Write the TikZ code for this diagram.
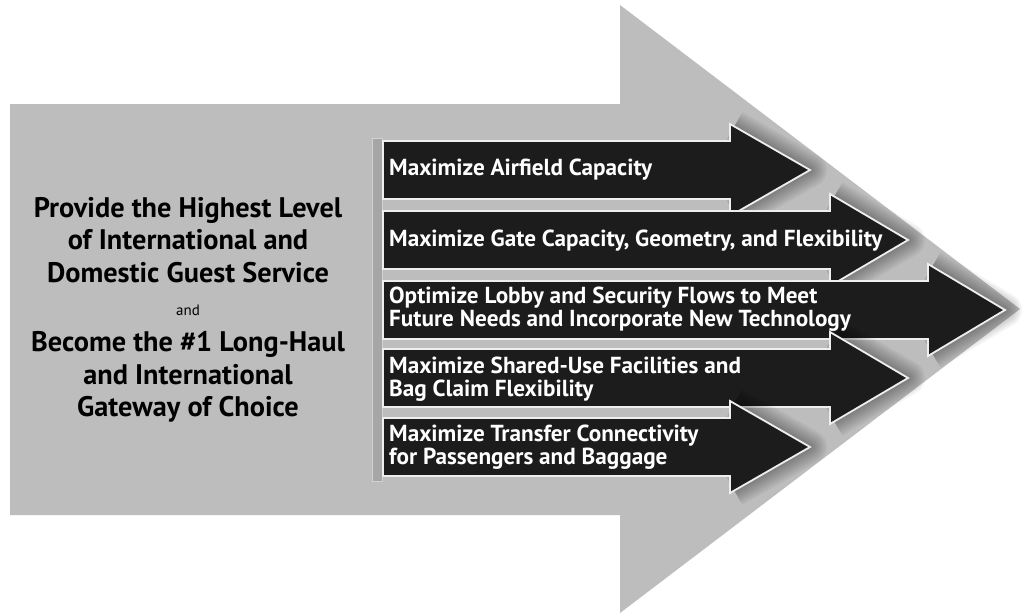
\documentclass[tikz,border=0pt]{standalone}
\usepackage{fontspec}
\setmainfont{PT Sans}
\definecolor{bigfill}{HTML}{BDBDBD}
\definecolor{darkfill}{HTML}{1C1C1C}
\definecolor{rimcol}{HTML}{EEEEEE}
\tikzset{
  bigarrow/.style={fill=bigfill},
  inarrow/.style={fill=darkfill, draw=rimcol, line width=1.8pt, line join=miter},
  itext/.style={text=white, anchor=west, align=left, inner sep=0pt,
    font=\bfseries\fontsize{23.2}{22.5}\selectfont},
  gtext/.style={text=black, align=center, inner sep=0pt,
    font=\bfseries\fontsize{28.3}{32.5}\selectfont},
  glow/.style={black, line join=round, line cap=butt}
}
\begin{document}
\begin{tikzpicture}[x=1pt,y=-1pt]
\useasboundingbox (0,0) rectangle (1025,613);
\fill[white] (0,0) rectangle (1025,613);
% big arrow
\fill[bigarrow] (10,104) -- (620,104) -- (620,5) -- (1020,309) -- (620,613)
  -- (620,515) -- (10,515) -- cycle;
% left strip
\fill[gray!70, draw=gray!35] (372,138) rectangle (382,481);
% inner arrows
\foreach \cy/\hb/\tp in {170/730/810, 240/830/908, 310/928/1005, 378/830/908, 447/730/810} {
  \foreach \w in {34,30,26,22,18,14,10,6}
    \draw[glow, line width=\w pt, opacity=0.045] (\hb+4,\cy-43) -- (\tp,\cy) -- (\hb+4,\cy+43);
  \filldraw[inarrow] (383,\cy-29) -- (\hb,\cy-29) -- (\hb,\cy-46) -- (\tp,\cy)
    -- (\hb,\cy+46) -- (\hb,\cy+29) -- (383,\cy+29) -- cycle;
}
% inner texts
\node[itext] (t1) at (389,170) {Maximize Airfield Capacity};
\node[itext] (t2) at (389,241) {Maximize Gate Capacity, Geometry, and Flexibility};
\node[itext] (t3) at (389,309) {Optimize Lobby and Security Flows to Meet\\Future Needs and Incorporate New Technology};
\node[itext] (t4) at (389,379) {Maximize Shared-Use Facilities and\\Bag Claim Flexibility};
\node[itext] (t5) at (389,447) {Maximize Transfer Connectivity\\for Passengers and Baggage};
% goal text
\node[gtext] (g1) at (188,240) {Provide the Highest Level\\of International and\\Domestic Guest Service};
\node[text=black, inner sep=0pt, font=\fontsize{15}{18}\selectfont] (gand) at (188,310) {and};
\node[gtext] (g2) at (188,377) {Become the \#1 Long-Haul\\and International\\Gateway of Choice};
\end{tikzpicture}
\end{document}
